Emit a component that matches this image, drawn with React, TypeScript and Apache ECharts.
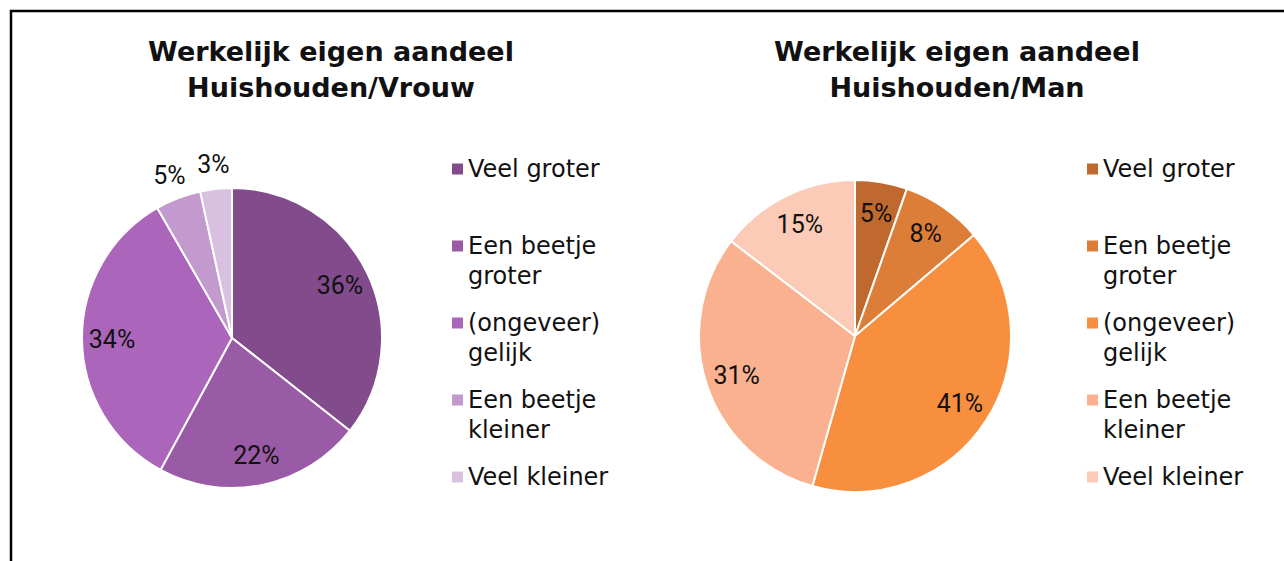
import React, { useEffect, useRef } from "react";
import * as echarts from "echarts";

const categories = ["Veel groter", "Een beetje groter", "(ongeveer) gelijk", "Een beetje kleiner", "Veel kleiner"];
const legendLines = ["Veel groter", "Een beetje\ngroter", "(ongeveer)\ngelijk", "Een beetje\nkleiner", "Veel kleiner"];
const vrouwValues = [35.6, 22.3, 33.8, 4.9, 3.4];
const manValues = [5.4, 8.4, 40.6, 31.0, 14.6];
const vrouwColors = ["#814B8C", "#9A5BA6", "#AB66BB", "#C39ACD", "#D9C0E1"];
const manColors = ["#BF692E", "#DC7E37", "#F78F3F", "#F9B190", "#FBCBB7"];
const vrouwOutside = [false, false, false, true, true];
const manOutside = [false, false, false, false, false];
const titles = ["Werkelijk eigen aandeel\nHuishouden/Vrouw", "Werkelijk eigen aandeel\nHuishouden/Man"];

const FONT = "DejaVu Sans";
const LABEL_FONT = "'Liberation Sans Narrow', Roboto, sans-serif";

function pct(p: any) {
  return Math.round(p.value) + "%";
}

function pieSeries(values: number[], colors: string[], outside: boolean[], center: number[], r: number) {
  const main = {
    type: "pie",
    center,
    radius: r,
    startAngle: 90,
    clockwise: true,
    avoidLabelOverlap: false,
    label: { show: false },
    labelLine: { show: false },
    itemStyle: { borderColor: "#ffffff", borderWidth: 2 },
    emphasis: { disabled: true },
    data: categories.map((n, i) => ({ name: n, value: values[i], itemStyle: { color: colors[i] } })),
    z: 2,
  };
  const labelStyle = { fontFamily: LABEL_FONT, fontSize: 25, color: "#111", formatter: pct };
  const inner = {
    type: "pie",
    center,
    radius: r * 1.56,
    startAngle: 90,
    clockwise: true,
    silent: true,
    avoidLabelOverlap: false,
    emphasis: { disabled: true },
    itemStyle: { color: "rgba(0,0,0,0)", borderWidth: 0 },
    labelLine: { show: false },
    label: { show: true, position: "inside", ...labelStyle },
    data: categories.map((n, i) => ({ name: n, value: values[i], label: { show: !outside[i] } })),
    z: 3,
  };
  const list: any[] = [main, inner];
  if (outside.some((o) => o)) {
    list.push({
      type: "pie",
      center,
      radius: r * 2.28,
      startAngle: 90,
      clockwise: true,
      silent: true,
      avoidLabelOverlap: false,
      emphasis: { disabled: true },
      itemStyle: { color: "rgba(0,0,0,0)", borderWidth: 0 },
      labelLine: { show: false },
      label: { show: true, position: "inside", ...labelStyle },
      data: categories.map((n, i) => ({ name: n, value: values[i], label: { show: outside[i] } })),
      z: 3,
    });
  }
  return list;
}

function legendFor(colors: string[], left: number) {
  return {
    orient: "vertical",
    left,
    top: 124,
    padding: 0,
    icon: "rect",
    itemWidth: 11,
    itemHeight: 11,
    itemGap: -13,
    selectedMode: false,
    data: categories.map((n, i) => ({ name: n, itemStyle: { color: colors[i], borderWidth: 0 } })),
    formatter: (name: string) => {
      const idx = categories.indexOf(name);
      const txt = legendLines[idx];
      return " \n" + txt + (txt.indexOf("\n") < 0 ? "\n " : "");
    },
    textStyle: { fontFamily: FONT, fontSize: 24, lineHeight: 30, color: "#111" },
  };
}

export default function App() {
  const ref = useRef<HTMLDivElement>(null);
  useEffect(() => {
    document.body.style.margin = "0";
    const chart = echarts.init(ref.current!, undefined, { renderer: "svg" });
    const titleStyle = { fontFamily: FONT, fontWeight: "bold", fontSize: 27, lineHeight: 36, color: "#111" };
    chart.setOption({
      animation: false,
      backgroundColor: "#ffffff",
      title: [
        { text: titles[0], left: 331, top: 33, padding: 0, textAlign: "center", textStyle: titleStyle },
        { text: titles[1], left: 957, top: 33, padding: 0, textAlign: "center", textStyle: titleStyle },
      ],
      legend: [legendFor(vrouwColors, 452), legendFor(manColors, 1087)],
      graphic: [
        {
          type: "rect",
          shape: { x: 11, y: 11, width: 1500, height: 800 },
          style: { fill: "none", stroke: "#000", lineWidth: 2.5 },
          silent: true,
          z: 0,
        },
      ],
      series: [
        ...pieSeries(vrouwValues, vrouwColors, vrouwOutside, [232, 338], 150),
        ...pieSeries(manValues, manColors, manOutside, [855, 336], 156),
      ],
    });
    return () => chart.dispose();
  }, []);
  return <div ref={ref} style={{ width: 1284, height: 561, position: "absolute", left: 0, top: 0 }} />;
}
